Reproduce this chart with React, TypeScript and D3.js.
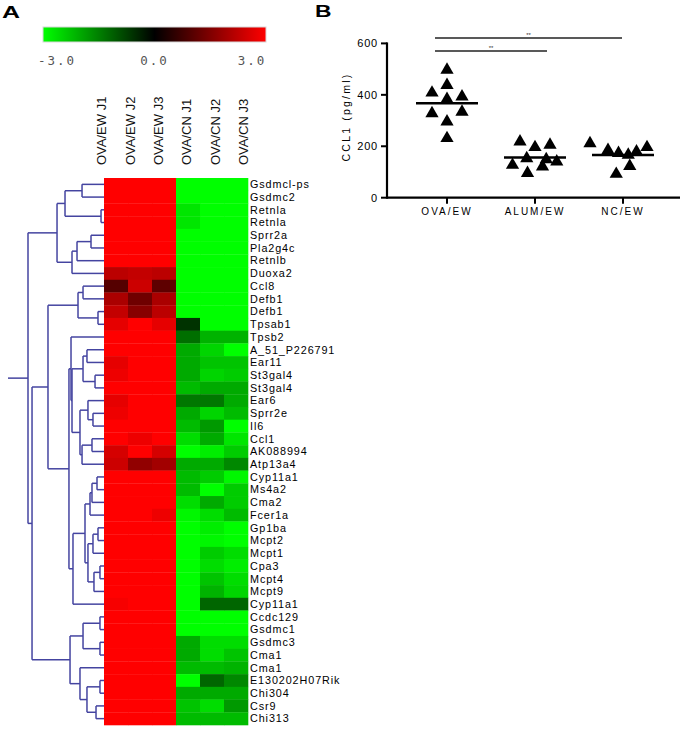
import React from "react";
import * as d3 from "d3";

// ---------- Panel A data ----------
const genes = [
  "Gsdmcl-ps", "Gsdmc2", "Retnla", "Retnla", "Sprr2a", "Pla2g4c", "Retnlb", "Duoxa2", "Ccl8", "Defb1",
  "Defb1", "Tpsab1", "Tpsb2", "A_51_P226791", "Ear11", "St3gal4", "St3gal4", "Ear6", "Sprr2e", "Il6",
  "Ccl1", "AK088994", "Atp13a4", "Cyp11a1", "Ms4a2", "Cma2", "Fcer1a", "Gp1ba", "Mcpt2", "Mcpt1",
  "Cpa3", "Mcpt4", "Mcpt9", "Cyp11a1", "Ccdc129", "Gsdmc1", "Gsdmc3", "Cma1", "Cma1", "E130202H07Rik",
  "Chi304", "Csr9", "Chi313",
];
const samples = ["OVA/EW J1", "OVA/EW J2", "OVA/EW J3", "OVA/CN J1", "OVA/CN J2", "OVA/CN J3"];

const ovaEW_J1 = [3, 3, 3, 3, 3, 3, 3, 2.2, 1.0, 2.0, 2.3, 2.7, 3, 3, 2.7, 2.8, 3, 2.7, 2.8, 3, 3, 2.5, 2.4, 3, 3, 3, 3, 3, 3, 3, 3, 3, 3, 2.9, 3, 3, 3, 3, 3, 3, 3, 3, 3];
const ovaEW_J2 = [3, 3, 3, 3, 3, 3, 3, 2.3, 2.4, 1.3, 1.6, 3, 3, 3, 3, 3, 3, 3, 3, 3, 2.8, 3, 1.7, 3, 3, 3, 3, 3, 3, 3, 3, 3, 3, 3, 3, 3, 3, 3, 3, 3, 3, 3, 3];
const ovaEW_J3 = [3, 3, 3, 3, 3, 3, 3, 2.2, 1.1, 2.0, 2.2, 2.7, 3, 3, 3, 3, 3, 3, 3, 3, 3, 2.5, 1.9, 3, 3, 3, 2.8, 3, 3, 3, 3, 3, 3, 3, 3, 3, 3, 3, 3, 3, 3, 3, 3];
const ovaCN_J1 = [-3, -3, -2.7, -2.7, -3, -3, -3, -3, -3, -3, -3, -0.6, -1.3, -2.0, -2.0, -2.0, -2.2, -1.4, -2.0, -2.2, -2.6, -3, -2.0, -2.2, -2.2, -2.6, -2.9, -3, -3, -3, -3, -3, -3, -3, -3, -3, -2.0, -2.0, -2.2, -3, -2.0, -2.3, -2.2];
const ovaCN_J2 = [-3, -3, -3, -3, -3, -3, -3, -3, -3, -3, -3, -3, -2.1, -2.5, -2.3, -2.5, -2.0, -1.4, -2.5, -1.8, -2.0, -2.8, -2.0, -2.4, -3, -2.0, -2.6, -2.8, -2.9, -2.4, -2.6, -2.3, -2.1, -1.2, -3, -3, -2.6, -2.6, -2.2, -1.2, -2.0, -2.6, -2.2];
const ovaCN_J3 = [-3, -3, -3, -3, -3, -3, -3, -3, -3, -3, -3, -3, -2.1, -3, -2.3, -2.4, -2.0, -2.0, -2.2, -3, -2.7, -2.4, -1.6, -2.9, -2.4, -2.4, -2.2, -3, -3, -2.6, -2.8, -2.6, -2.5, -1.2, -3, -3, -2.6, -2.3, -2.1, -1.6, -2.0, -1.8, -2.2];
const columnsData = [ovaEW_J1, ovaEW_J2, ovaEW_J3, ovaCN_J1, ovaCN_J2, ovaCN_J3];

const colorDomain = [-3, 0, 3];
const colorRange = ["#00ff00", "#000000", "#ff0000"];
const colorTicks = [-3, 0, 3];

// Row dendrogram: [distance, left, right]; leaves are row indices
type DNode = number | [number, DNode, DNode];
const dendrogram: DNode = [1.0,
  [0.618,
    [0.513, [0.289, 0, 1], [0.039, 2, 3]],
    [0.421, [0.355, [0.171, 4, 5], 6], 7]],
  [0.947,
    [0.737,
      [0.342, [0.276, 8, 9], [0.079, 10, 11]],
      [0.461,
        [0.434, 12,
          [0.421,
            [0.276, [0.224, 13, 14], [0.118, 15, 16]],
            [0.316, [0.211, 17, [0.145, 18, 19]], [0.289, [0.158, 20, 21], 22]]]],
        [0.408,
          [0.25,
            [0.184, [0.158, [0.092, 23, 24], 25], 26],
            [0.211, [0.145, [0.079, 27, 28], 29], [0.132, [0.053, 30, 31], 32]]],
          33]]],
    [0.447,
      [0.276, [0.053, 34, 35], [0.053, 36, 37]],
      [0.316, 38, [0.224, [0.053, 39, 40], [0.105, 41, 42]]]]]];

// ---------- Panel B data ----------
const groups = ["OVA/EW", "ALUM/EW", "NC/EW"];
const ccl1_OVA_EW = [497, 438, 408, 393, 383, 334, 328, 296, 231];
const jitter_OVA_EW = [0, 0, -1, 1, 0, 1, -1, 0, 0];
const ccl1_ALUM_EW = [218, 196, 205, 153, 127, 121, 140, 95, 149];
const jitter_ALUM_EW = [-1, 0, 1, -0.55, -1.5, 0.5, 1.45, -0.5, 0.75];
const ccl1_NC_EW = [211, 185, 173, 166, 179, 196, 123, 92];
const jitter_NC_EW = [-2.2, -1, -0.3, 0.35, 0.9, 1.6, 0.45, -0.45];
const groupValues = [ccl1_OVA_EW, ccl1_ALUM_EW, ccl1_NC_EW];
const groupJitter = [jitter_OVA_EW, jitter_ALUM_EW, jitter_NC_EW];
const yTicks = [0, 200, 400, 600];
const comparisons = [
  { from: "OVA/EW", to: "NC/EW", label: "**" },
  { from: "OVA/EW", to: "ALUM/EW", label: "**" },
];

export default function App() {
  const W = 685, H = 729;
  const sans = "'Liberation Sans', Arial, sans-serif";
  const dendroColor = "#4444a0";

  // heatmap scales
  const x = d3.scaleBand<number>().domain(d3.range(samples.length)).range([104, 248]);
  const y = d3.scaleBand<number>().domain(d3.range(genes.length)).range([178, 725]);
  const color = d3.scaleLinear<string>().domain(colorDomain).range(colorRange).clamp(true);
  const labelX = d3.scaleBand<number>().domain(d3.range(samples.length)).range([87.5, 257.5]);
  const cbar = d3.scaleLinear().domain([-3, 3]).range([57, 252]);

  // dendrogram
  const dx = d3.scaleLinear().domain([0, 1]).range([104, 28]);
  const segs: [number, number, number, number][] = [];
  const walk = (n: DNode): { x: number; y: number } => {
    if (typeof n === "number") return { x: x.range()[0], y: (y(n) as number) + y.bandwidth() / 2 };
    const [h, a, b] = n;
    const ca = walk(a), cb = walk(b);
    const nx = dx(h);
    segs.push([nx, ca.y, nx, cb.y]);
    segs.push([nx, ca.y, ca.x, ca.y]);
    segs.push([nx, cb.y, cb.x, cb.y]);
    return { x: nx, y: (ca.y + cb.y) / 2 };
  };
  const root = walk(dendrogram);
  segs.push([8, root.y, root.x, root.y]);

  // panel B scales
  const yB = d3.scaleLinear().domain([0, 600]).range([197.7, 43.4]);
  const xB = d3.scalePoint<string>().domain(groups).range([447, 623]);
  const jitterUnit = 15;
  const tri = d3.symbol().type(d3.symbolTriangle).size(76)() as string;
  const axisX0 = 387, axisX1 = 680;
  const sigY = [38, 51];

  return (
    <svg width={W} height={H} style={{ position: "absolute", left: 0, top: 0, background: "#fff" }} fontFamily={sans}>
      <rect width={W} height={H} fill="#fff" />
      {/* Panel letters */}
      <text x={2} y={18} fontSize={16} fontWeight="bold" textLength={18} lengthAdjust="spacingAndGlyphs">A</text>
      <text x={315} y={17} fontSize={16} fontWeight="bold" textLength={16.5} lengthAdjust="spacingAndGlyphs">B</text>

      {/* Color bar */}
      <defs>
        <linearGradient id="cbar" x1="0" x2="1" y1="0" y2="0">
          {colorDomain.map((d, i) => (
            <stop key={i} offset={(d + 3) / 6} stopColor={colorRange[i]} />
          ))}
        </linearGradient>
      </defs>
      <rect x={43} y={27} width={223} height={15} fill="url(#cbar)" stroke="#d8d8d8" strokeWidth={1} />
      {colorTicks.map((t) => (
        <text key={t} x={cbar(t)} y={65} textAnchor="middle" fontSize={12.5} letterSpacing={2}
          fontFamily="'DejaVu Sans Mono', monospace" fill="#555">
          {t.toFixed(1)}
        </text>
      ))}

      {/* Column labels */}
      {samples.map((s, i) => {
        const cx = (labelX(i) as number) + labelX.bandwidth() / 2 + 4.8;
        return (
          <text key={s} transform={`translate(${cx},165) rotate(-90)`} fontSize={13} fill="#111">
            {s}
          </text>
        );
      })}

      {/* Heatmap */}
      {columnsData.map((col, ci) =>
        col.map((v, ri) => (
          <rect key={`${ci}-${ri}`} x={x(ci)} y={y(ri)} width={x.bandwidth() + 0.3} height={y.bandwidth() + 0.3}
            fill={color(v)} />
        ))
      )}

      {/* Dendrogram */}
      <g stroke={dendroColor} strokeWidth={1.5} fill="none">
        {segs.map((s, i) => (
          <line key={i} x1={s[0]} y1={s[1]} x2={s[2]} y2={s[3]} />
        ))}
      </g>

      {/* Row labels */}
      {genes.map((g, i) => (
        <text key={i} x={250} y={(y(i) as number) + y.bandwidth() / 2 + 3.8} fontSize={10.8} letterSpacing={0.9} fill="#000">
          {g}
        </text>
      ))}

      {/* Panel B */}
      <g>
        {/* y axis */}
        <line x1={axisX0} x2={axisX0} y1={yB(600) - 1} y2={yB(0) + 1} stroke="#000" strokeWidth={2.2} />
        {yTicks.map((t) => (
          <g key={t}>
            <line x1={axisX0 - 6} x2={axisX0} y1={yB(t)} y2={yB(t)} stroke="#000" strokeWidth={2} />
            <text x={axisX0 - 9} y={yB(t) + 3.8} textAnchor="end" fontSize={11} letterSpacing={0.8}>{t}</text>
          </g>
        ))}
        {/* x axis */}
        <line x1={axisX0} x2={axisX1} y1={yB(0)} y2={yB(0)} stroke="#000" strokeWidth={2.2} />
        {groups.map((g) => (
          <g key={g}>
            <line x1={xB(g)} x2={xB(g)} y1={yB(0)} y2={yB(0) + 6} stroke="#000" strokeWidth={2} />
            <text x={xB(g)} y={215} textAnchor="middle" fontSize={10} letterSpacing={2}>{g}</text>
          </g>
        ))}
        <text transform={`translate(350,117) rotate(-90)`} textAnchor="middle" fontSize={10.5} letterSpacing={2.2}>
          CCL1 (pg/ml)
        </text>

        {/* significance */}
        {comparisons.map((c, i) => {
          const x1 = (xB(c.from) as number) - 12;
          const x2 = c.to === "NC/EW" ? (xB(c.to) as number) - 1 : (xB(c.to) as number) + 12;
          return (
            <g key={i}>
              <line x1={x1} x2={x2} y1={sigY[i]} y2={sigY[i]} stroke="#222" strokeWidth={1.3} />
              <text x={(x1 + x2) / 2} y={sigY[i] - 1} textAnchor="middle" fontSize={6} fill="#333">{c.label}</text>
            </g>
          );
        })}

        {/* points */}
        {groups.map((g, gi) =>
          groupValues[gi].map((v, i) => (
            <path key={`${g}-${i}`} d={tri}
              transform={`translate(${(xB(g) as number) + groupJitter[gi][i] * jitterUnit},${yB(v)})`}
              fill="#000" />
          ))
        )}
        {/* means */}
        {groups.map((g, gi) => {
          const m = d3.mean(groupValues[gi]) as number;
          const cx = xB(g) as number;
          return <line key={g} x1={cx - 31} x2={cx + 31} y1={yB(m)} y2={yB(m)} stroke="#000" strokeWidth={2.5} />;
        })}
      </g>
    </svg>
  );
}
